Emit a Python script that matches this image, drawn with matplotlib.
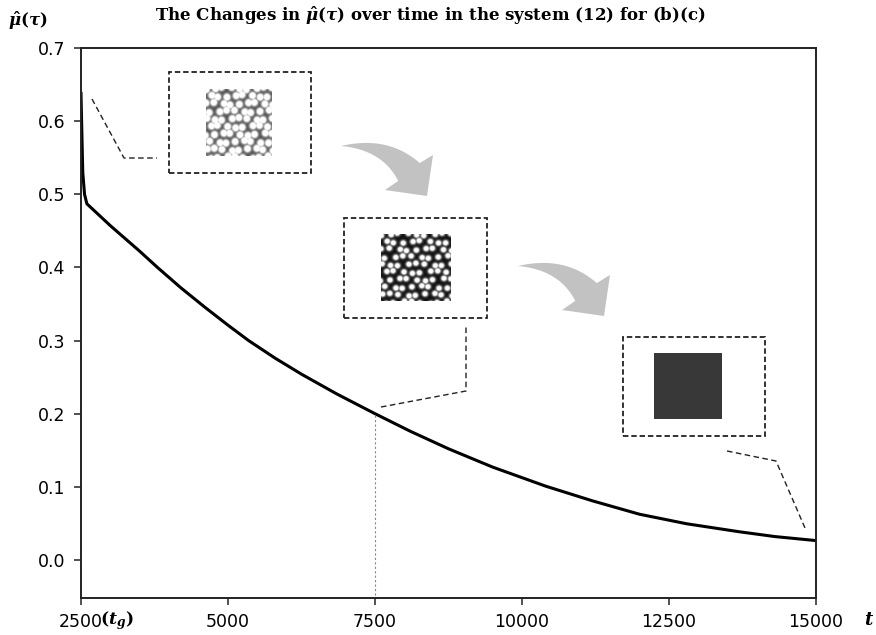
import numpy as np
import matplotlib
matplotlib.use("Agg")
import matplotlib.pyplot as plt
from matplotlib.patches import Polygon, Rectangle
from matplotlib.lines import Line2D

# decay of mu_hat(tau) after the growth time t_g
t = [2500, 2510, 2530, 2560, 2600, 2800, 3000, 3200, 3500, 3800, 4200, 4600,
     5000, 5350, 5800, 6250, 6850, 7500, 8100, 8750, 9500, 10400, 11200,
     12000, 12800, 13700, 14300, 15000]
mu = [0.638, 0.600, 0.530, 0.500, 0.487, 0.472, 0.457, 0.443, 0.422, 0.400,
      0.372, 0.346, 0.321, 0.300, 0.276, 0.254, 0.227, 0.200, 0.176, 0.152,
      0.127, 0.101, 0.0808, 0.0625, 0.0495, 0.0385, 0.032, 0.0265]

xticks = [2500, 5000, 7500, 10000, 12500, 15000]
xtick_labels = ["2500", "5000", "7500", "10000", "12500", "15000"]
yticks = [0.0, 0.1, 0.2, 0.3, 0.4, 0.5, 0.6, 0.7]
ytick_labels = ["0.0", "0.1", "0.2", "0.3", "0.4", "0.5", "0.6", "0.7"]
t_mark = 7500

plt.rcParams["font.family"] = ["DejaVu Sans"]
plt.rcParams["mathtext.fontset"] = "custom"
plt.rcParams["mathtext.rm"] = "DejaVu Serif:bold"
plt.rcParams["mathtext.it"] = "DejaVu Serif:bold:italic"
plt.rcParams["mathtext.bf"] = "DejaVu Serif:bold"
plt.rcParams["mathtext.bfit"] = "DejaVu Serif:bold:italic"

W, H = 876, 635


def fx(x):
    return x / W


def fy(y):
    return 1 - y / H


fig = plt.figure(figsize=(W / 100, H / 100), dpi=100)
ax = fig.add_axes([fx(81), fy(598), (816 - 81) / W, (598 - 48) / H])

ax.plot(t, mu, color="black", lw=2.2, solid_joinstyle="round")
mu_mark = mu[t.index(t_mark)]
ax.plot([t_mark, t_mark], [-0.06, mu_mark], color="#888888", lw=0.8,
        ls=(0, (2, 2)))

ax.set_xlim(2500, 15000)
ax.set_ylim(-0.052, 0.7)
ax.set_xticks(xticks)
ax.set_xticklabels(xtick_labels)
ax.set_yticks(yticks)
ax.set_yticklabels(ytick_labels)
ax.tick_params(labelsize=12.5, length=5, width=1.1, color="#222222", pad=6)
for s in ax.spines.values():
    s.set_linewidth(1.4)
    s.set_color("#222222")

# titles and axis names
fig.text(fx(430), fy(16), r"The Changes in $\hat{\mu}(\tau)$ over time in the system (12) for (b)(c)",
         ha="center", va="center", fontsize=12, fontweight="bold",
         family="DejaVu Serif")
fig.text(fx(8), fy(21), r"$\hat{\mu}(\tau)$", ha="left", va="center", fontsize=12)
fig.text(fx(864), fy(620), r"$t$", ha="left", va="center", fontsize=13)
fig.text(fx(100), fy(621), r"$(t_g)$", ha="left", va="center", fontsize=12.5)


def dot_pattern(n, size, sigma, bg, gain):
    yy, xx = np.mgrid[0:size, 0:size]
    sp = size / n
    img = np.zeros((size, size))
    for r in range(-1, n + 2):
        for c in range(-1, n + 2):
            cx = (c + 0.5 * (r % 2)) * sp + 2.2 * np.sin(1.7 * r + 2.3 * c)
            cy = r * sp * 0.9 + 2.0 * np.cos(2.1 * r - 1.3 * c)
            img = np.maximum(img, np.exp(-((xx - cx) ** 2 + (yy - cy) ** 2) / (2 * sigma ** 2)))
    return bg + (1 - bg) * np.clip(img * gain, 0, 1)


def inset(box, img_box, img):
    x0, y0, x1, y1 = box
    fig.add_artist(Rectangle((fx(x0), fy(y1)), (x1 - x0) / W, (y1 - y0) / H,
                             transform=fig.transFigure, fill=False,
                             ec="#222222", lw=1.3, ls=(0, (3, 1.6))))
    a0, b0, a1, b1 = img_box
    iax = fig.add_axes([fx(a0), fy(b1), (a1 - a0) / W, (b1 - b0) / H])
    iax.imshow(img, cmap="gray", vmin=0, vmax=1, interpolation="bilinear",
               aspect="auto")
    iax.axis("off")


inset((169, 72, 311, 173), (206, 89, 272, 156),
      dot_pattern(8, 100, 3.3, 0.28, 2.2))
inset((344, 218, 487, 318), (381, 234, 450, 301),
      dot_pattern(8, 100, 2.6, 0.06, 1.9))
inset((623, 337, 765, 436), (654, 353, 722, 419),
      np.full((10, 10), 0.22))


def leader(xs, ys):
    fig.add_artist(Line2D([fx(x) for x in xs], [fy(y) for y in ys],
                          transform=fig.transFigure, color="#222222",
                          lw=1.0, ls=(0, (4, 2.5))))


leader([92, 124, 157], [99, 158, 158])
leader([381, 466, 466], [407, 391, 327])
leader([727, 776, 805], [451, 461, 528])


def curved_arrow(dx, dy):
    p0 = np.array([341.0, 146.0])
    p1 = np.array([385.0, 143.0])
    p2 = np.array([409.0, 172.0])
    s = np.linspace(0, 1, 40)[:, None]
    pts = (1 - s) ** 2 * p0 + 2 * (1 - s) * s * p1 + s ** 2 * p2
    tan = 2 * (1 - s) * (p1 - p0) + 2 * s * (p2 - p1)
    tan = tan / np.linalg.norm(tan, axis=1, keepdims=True)
    nrm = np.column_stack([tan[:, 1], -tan[:, 0]])
    hw = 14 * s
    upper = pts + hw * nrm
    lower = pts - hw * nrm
    head = np.array([[433.0, 155.0], [427.0, 196.0], [385.0, 190.0]])
    poly = np.vstack([upper, head, lower[::-1]])
    poly = poly + np.array([dx, dy])
    poly = np.column_stack([poly[:, 0] / W, 1 - poly[:, 1] / H])
    fig.add_artist(Polygon(poly, closed=True, transform=fig.transFigure,
                           fc="#c2c2c2", ec="none"))


curved_arrow(0, 0)
curved_arrow(177, 120)

fig.savefig("out.png", dpi=100)
